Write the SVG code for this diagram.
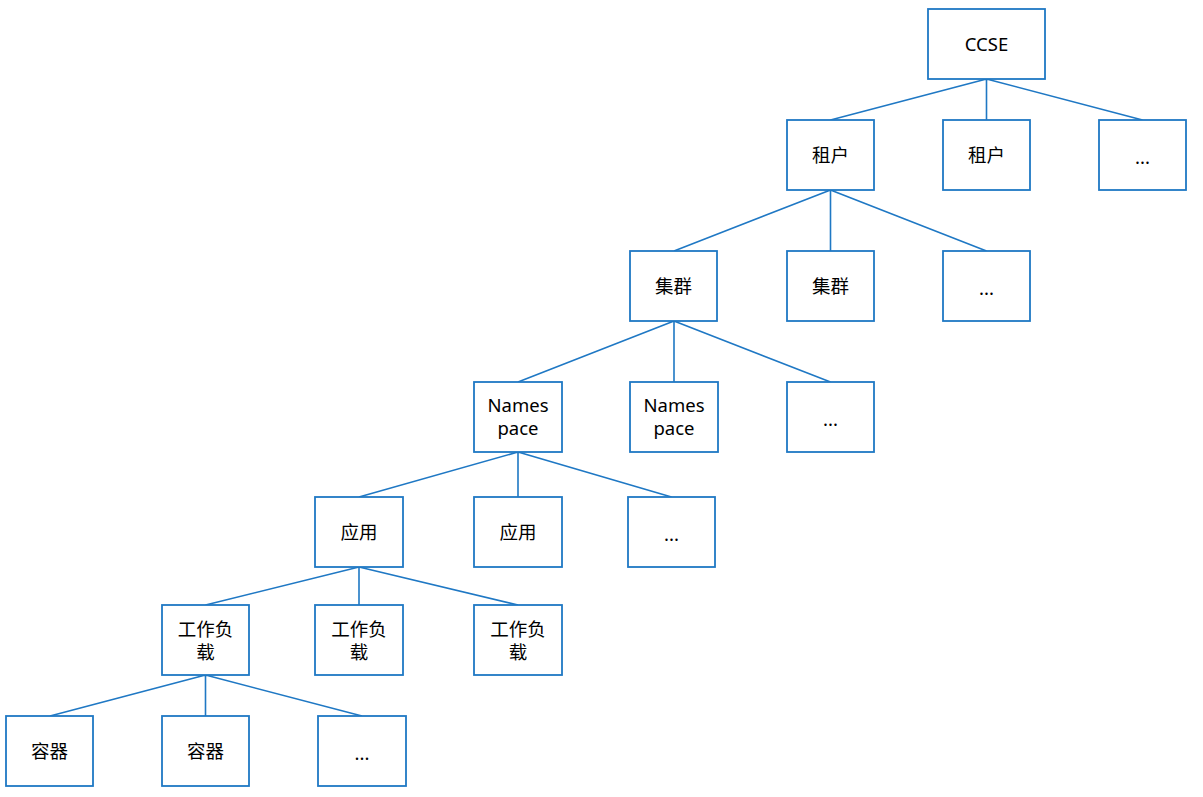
<svg xmlns="http://www.w3.org/2000/svg" width="1203" height="797" viewBox="0 0 1203 797">
<style>
.box{fill:#fff;stroke:#1f78c4;stroke-width:1.8}
.t{font-family:"Noto Sans","Noto Sans CJK SC",sans-serif;font-size:18.5px;fill:#000;text-anchor:middle;dominant-baseline:central}
.c{stroke:#1f78c4;stroke-width:1.6;fill:none}
</style>
<rect width="1203" height="797" fill="#fff"/>
<g id="connectors">
<path class="c" d="M986.5 79L830.5 120M986.5 79L986.5 120M986.5 79L1142.5 120"/>
<path class="c" d="M830.5 190L674 251M830.5 190L830.5 251M830.5 190L986.5 251"/>
<path class="c" d="M674 321L518 382M674 321L674 382M674 321L830.5 382"/>
<path class="c" d="M518 452L359 497M518 452L518 497M518 452L671.5 497"/>
<path class="c" d="M359 567L205.5 605M359 567L359 605M359 567L518 605"/>
<path class="c" d="M205.5 675L50 716M205.5 675L205.5 716M205.5 675L362 716"/>
</g>
<g id="ccse"><rect class="box" x="928" y="9" width="117" height="70"/><text class="t" x="986.5" y="43">CCSE</text></g>
<g id="tenant1"><rect class="box" x="787" y="120" width="87" height="70"/><text class="t" x="830.5" y="154">租户</text></g>
<g id="tenant2"><rect class="box" x="943" y="120" width="87" height="70"/><text class="t" x="986.5" y="154">租户</text></g>
<g id="tenant3"><rect class="box" x="1099" y="120" width="87" height="70"/><text class="t" x="1142.5" y="156">...</text></g>
<g id="cluster1"><rect class="box" x="630" y="251" width="87" height="70"/><text class="t" x="673.5" y="285">集群</text></g>
<g id="cluster2"><rect class="box" x="787" y="251" width="87" height="70"/><text class="t" x="830.5" y="285">集群</text></g>
<g id="cluster3"><rect class="box" x="943" y="251" width="87" height="70"/><text class="t" x="986.5" y="287">...</text></g>
<g id="ns1"><rect class="box" x="474" y="382" width="88" height="70"/><text class="t" x="518" y="404.5">Names</text><text class="t" x="518" y="427.5">pace</text></g>
<g id="ns2"><rect class="box" x="630" y="382" width="88" height="70"/><text class="t" x="674" y="404.5">Names</text><text class="t" x="674" y="427.5">pace</text></g>
<g id="ns3"><rect class="box" x="787" y="382" width="87" height="70"/><text class="t" x="830.5" y="418">...</text></g>
<g id="app1"><rect class="box" x="315" y="497" width="88" height="70"/><text class="t" x="359" y="531">应用</text></g>
<g id="app2"><rect class="box" x="474" y="497" width="88" height="70"/><text class="t" x="518" y="531">应用</text></g>
<g id="app3"><rect class="box" x="628" y="497" width="87" height="70"/><text class="t" x="671.5" y="533">...</text></g>
<g id="wl1"><rect class="box" x="162" y="605" width="87" height="70"/><text class="t" x="205.5" y="628">工作负</text><text class="t" x="205.5" y="651">载</text></g>
<g id="wl2"><rect class="box" x="315" y="605" width="88" height="70"/><text class="t" x="359" y="628">工作负</text><text class="t" x="359" y="651">载</text></g>
<g id="wl3"><rect class="box" x="474" y="605" width="88" height="70"/><text class="t" x="518" y="628">工作负</text><text class="t" x="518" y="651">载</text></g>
<g id="ct1"><rect class="box" x="6" y="716" width="87" height="70"/><text class="t" x="49.5" y="750">容器</text></g>
<g id="ct2"><rect class="box" x="162" y="716" width="87" height="70"/><text class="t" x="205.5" y="750">容器</text></g>
<g id="ct3"><rect class="box" x="318" y="716" width="88" height="70"/><text class="t" x="362" y="752">...</text></g>
</svg>
